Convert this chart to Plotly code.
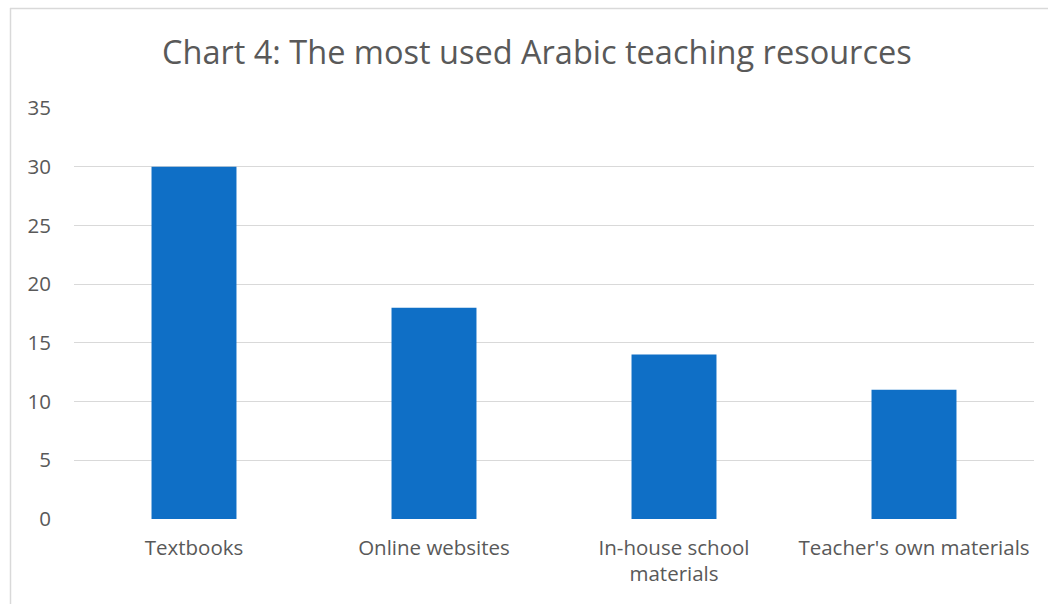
import plotly.graph_objects as go

categories = ["Textbooks", "Online websites", "In-house school<br>materials", "Teacher's own materials"]
values = [30, 18, 14, 11]
y_ticks = [0, 5, 10, 15, 20, 25, 30, 35]

W, H = 1048, 604
L, R, T, B = 74, 14, 108, 85
pw, ph = W - L - R, H - T - B

def px_x(x):
    return (x - L) / pw

def px_y(y):
    return (H - B - y) / ph

fig = go.Figure()
fig.add_trace(go.Bar(
    x=categories, y=values,
    marker=dict(color="#0F6FC6", line=dict(width=0)),
))

fig.update_layout(
    width=W, height=H,
    margin=dict(l=L, r=R, t=T, b=B),
    paper_bgcolor="white", plot_bgcolor="white",
    bargap=0.646,
    showlegend=False,
    font=dict(family="Open Sans", color="#595959", size=16),
    xaxis=dict(showgrid=False, showline=False, zeroline=False, ticks="",
               tickfont=dict(size=20.5, color="#595959"), ticklabelstandoff=14),
    yaxis=dict(range=[0, 35], tickvals=y_ticks, showgrid=True, gridcolor="#D9D9D9",
               gridwidth=1, zeroline=False, showline=False, ticks="",
               tickfont=dict(size=20.5, color="#595959"), ticklabelstandoff=22),
    annotations=[dict(
        text="Chart 4: The most used Arabic teaching resources",
        xref="paper", yref="paper", x=px_x(537), y=px_y(52),
        xanchor="center", yanchor="middle", showarrow=False,
        font=dict(size=32.5, color="#595959", family="Open Sans"),
    )],
    shapes=[
        dict(type="line", xref="paper", yref="paper",
             x0=px_x(10), x1=px_x(1060), y0=px_y(8.5), y1=px_y(8.5),
             line=dict(color="#D9D9D9", width=1.5)),
        dict(type="line", xref="paper", yref="paper",
             x0=px_x(10.5), x1=px_x(10.5), y0=px_y(8), y1=px_y(620),
             line=dict(color="#D9D9D9", width=1.5)),
    ],
)
fig.update_xaxes(automargin=False)
fig.update_yaxes(automargin=False)
fig.write_html("out.html")
